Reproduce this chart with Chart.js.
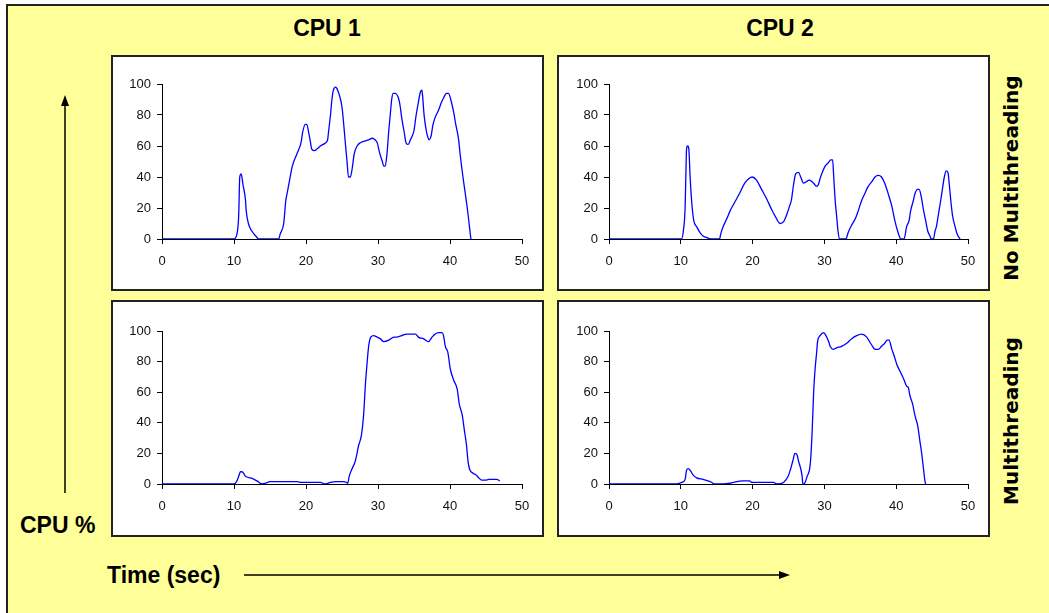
<!DOCTYPE html>
<html>
<head>
<meta charset="utf-8">
<script src="https://cdn.jsdelivr.net/npm/chart.js@4.4.0/dist/chart.umd.min.js"></script>
<style>
  body { margin: 0; background: #fff; width: 1049px; height: 613px; overflow: hidden; position: relative; font-family: "Liberation Sans", Arial, sans-serif; }
  #frame { position: absolute; left: 6px; top: 4px; width: 1100px; height: 700px; background: #ffff99; border-left: 2px solid #222; border-top: 2px solid #222; }
  .box { position: absolute; background: #fff; border: 2px solid #222; box-sizing: border-box; }
  .box canvas { position: absolute; left: 0; top: 0; }
  .lbl { position: absolute; font-weight: bold; font-size: 23px; color: #000; white-space: nowrap; line-height: 1; }
  .side { position: absolute; font-family: "DejaVu Sans", Verdana, sans-serif; font-weight: bold; font-size: 20px; white-space: nowrap; line-height: 1; transform: translate(-50%, -50%) rotate(-90deg); }
  svg { position: absolute; left: 0; top: 0; }
</style>
</head>
<body>
<div id="frame"></div>

<div class="box" style="left:111px; top:55px; width:433px; height:236px;"><canvas id="c1" width="429" height="232"></canvas></div>
<div class="box" style="left:557px; top:55px; width:433px; height:236px;"><canvas id="c2" width="429" height="232"></canvas></div>
<div class="box" style="left:111px; top:300px; width:433px; height:237px;"><canvas id="c3" width="429" height="233"></canvas></div>
<div class="box" style="left:557px; top:300px; width:433px; height:237px;"><canvas id="c4" width="429" height="233"></canvas></div>

<div class="lbl" style="left:327px; top:28px; transform:translate(-50%,-50%);">CPU 1</div>
<div class="lbl" style="left:780px; top:28px; transform:translate(-50%,-50%);">CPU 2</div>
<div class="lbl" style="left:20px; top:525px; transform:translateY(-50%);">CPU %</div>
<div class="lbl" style="left:107px; top:575px; transform:translateY(-50%);">Time (sec)</div>
<div class="side" style="left:1011px; top:178px;">No Multithreading</div>
<div class="side" style="left:1011px; top:421px;">Multithreading</div>

<svg width="1049" height="613">
  <line x1="65" y1="493" x2="65" y2="104" stroke="#000" stroke-width="1.5"/>
  <polygon points="65,95 61,106 69,106" fill="#000"/>
  <line x1="244" y1="575" x2="780" y2="575" stroke="#000" stroke-width="1.5"/>
  <polygon points="790,575 779,571 779,579" fill="#000"/>
</svg>

<script>
/* ---------------- DATA ---------------- */
const xTicks = [0, 10, 20, 30, 40, 50];
const yTicks = [0, 20, 40, 60, 80, 100];

// CPU 1, no multithreading
const cpu1NoMtTime = [
  0, 10, 10.4, 10.65, 10.8, 11.0, 11.25, 11.6, 11.7, 12.0,
  12.5, 13.2, 13.4, 16.2, 16.4, 16.9, 17.2, 17.4, 17.8, 18.1,
  18.75, 19.35, 19.5, 19.9, 20.1, 20.4, 20.6, 20.8, 21.2, 21.5,
  22, 22.7, 23, 23.15, 23.4, 23.6, 23.8, 24.1, 24.3, 24.8,
  25, 25.2, 25.5, 25.7, 25.9, 26.15, 26.4, 26.7, 27.1, 27.5,
  28, 28.7, 29.2, 29.6, 29.9, 30.2, 30.6, 30.8, 31.0, 31.25,
  31.5, 31.7, 31.9, 32.1, 32.4, 32.9, 33.1, 33.3, 33.6, 33.9,
  34.2, 34.5, 34.8, 35.0, 35.3, 35.6, 35.9, 36.1, 36.2, 36.4,
  36.7, 36.9, 37.1, 37.4, 37.6, 37.9, 38.4, 38.8, 39.1, 39.5,
  39.8, 40.1, 40.5, 40.8, 41.2, 41.4, 41.8, 42.1, 42.4, 42.7,
  42.9
];
const cpu1NoMtLoad = [
  0, 0, 3, 15, 40, 42, 35, 25, 18, 10,
  5, 1, 0, 0, 3, 10, 25, 30, 40, 47,
  55, 63, 68, 74, 74, 68, 63, 58, 57, 58,
  60, 62, 64, 70, 80, 90, 96, 98, 97, 90,
  85, 76, 60, 50, 40, 40, 45, 55, 60, 62,
  63, 64, 65, 64, 62, 56, 50, 47, 47, 55,
  70, 80, 90, 94, 94, 90, 85, 78, 70, 62,
  61, 64, 67, 70, 80, 88, 95, 96, 92, 80,
  70, 66, 64, 67, 73, 78, 83, 88, 91, 94,
  94, 90, 82, 74, 64, 55, 40, 30, 20, 8,
  0
];

// CPU 2, no multithreading
const cpu2NoMtTime = [
  0, 10.1, 10.35, 10.6, 10.7, 10.8, 10.95, 11.1, 11.3, 11.5,
  11.8, 12.2, 12.7, 13.1, 13.6, 14.1, 15.4, 15.55, 15.9, 16.4,
  16.85, 17.55, 18.25, 18.9, 19.5, 19.95, 20.55, 21.25, 21.95, 22.65,
  23.35, 23.8, 24.3, 24.7, 25.2, 25.4, 25.7, 26.0, 26.4, 26.7,
  27.1, 27.5, 27.9, 28.5, 28.9, 29.15, 29.4, 29.8, 30.1, 30.5,
  30.9, 31.15, 31.3, 31.5, 31.7, 31.9, 32.1, 33.0, 33.3, 33.8,
  34.3, 34.7, 35.2, 35.7, 36.1, 36.6, 37.05, 37.5, 37.95, 38.4,
  38.9, 39.4, 39.8, 40.2, 40.5, 40.7, 41.1, 41.45, 41.8, 42.0,
  42.4, 42.6, 43.0, 43.2, 43.5, 43.75, 44.1, 44.4, 44.7, 44.9,
  45.2, 45.4, 45.6, 45.85, 46.2, 46.4, 46.7, 46.95, 47.2, 47.4,
  47.6, 47.85, 48.2, 48.5, 48.9
];
const cpu2NoMtLoad = [
  0, 0, 5, 20, 40, 58, 60, 59, 40, 25,
  12, 8, 4, 2, 1, 0, 0, 3, 8, 13,
  18, 24, 30, 36, 39, 40, 38, 32, 26, 19,
  13, 10, 11, 15, 22, 25, 35, 42, 43, 40,
  36, 37, 38, 36, 34, 35, 39, 44, 47, 49,
  51, 51, 40, 25, 15, 5, 0, 0, 4, 9,
  13, 18, 25, 30, 34, 37, 40, 41, 40, 36,
  29, 21, 12, 5, 1, 0, 0, 8, 12, 18,
  25, 29, 32, 32, 27, 20, 12, 5, 2, 0,
  0, 5, 8, 15, 25, 31, 40, 44, 43, 35,
  25, 15, 8, 3, 0
];

// CPU 1, multithreading
const cpu1MtTime = [
  0, 10.0, 10.4, 10.65, 10.9, 11.1, 11.35, 11.6, 12.3, 13.2,
  13.9, 14.35, 15.0, 16.0, 17.8, 18.75, 19.4, 20.1, 22.0, 22.7,
  23.4, 24.1, 25.2, 25.6, 25.8, 26.0, 26.4, 26.85, 27.3, 27.7,
  28.0, 28.25, 28.5, 28.7, 29.0, 29.4, 29.9, 30.3, 30.8, 31.5,
  32.2, 32.6, 33.3, 34.0, 34.7, 35.2, 35.6, 36.3, 37.0, 37.5,
  37.95, 38.4, 38.9, 39.1, 39.35, 39.7, 40.05, 40.5, 41.0, 41.3,
  41.7, 42.0, 42.3, 42.5, 42.7, 43.2, 43.6, 44.0, 44.4, 44.9,
  45.4, 46.1, 46.5, 46.9
];
const cpu1MtLoad = [
  0, 0, 2, 5, 8, 8, 7, 5, 4, 2,
  0, 0.5, 1.5, 1.5, 1.5, 1.5, 1, 1, 1, 0,
  1, 1.5, 1.5, 1, 0.5, 5, 10, 15, 25, 32,
  45, 65, 80, 90, 96, 97, 96, 95, 93, 94,
  96, 96, 97, 98, 98, 98, 96, 95, 93, 96,
  98, 99, 99, 97, 90, 86, 75, 68, 62, 52,
  45, 35, 25, 15, 10, 7, 6, 4, 2.5, 2.5,
  3, 3, 3, 2
];

// CPU 2, multithreading
const cpu2MtTime = [
  0, 9.4, 10.1, 10.6, 10.8, 11.05, 11.3, 11.7, 12.2, 13.1,
  14.1, 14.8, 15.9, 16.85, 17.8, 18.5, 19.6, 19.9, 21.5, 22.9,
  23.4, 24.3, 24.95, 25.3, 25.6, 25.9, 26.2, 26.4, 26.7, 26.9,
  27.0, 27.3, 27.6, 27.95, 28.1, 28.3, 28.5, 28.7, 28.9, 29.05,
  29.4, 29.9, 30.1, 30.6, 30.8, 31.2, 31.7, 32.4, 33.1, 33.8,
  34.5, 35.2, 35.9, 36.3, 36.7, 37.05, 37.5, 37.95, 38.4, 38.75,
  39.0, 39.4, 39.7, 40.1, 40.5, 41.1, 41.45, 41.7, 41.9, 42.3,
  42.6, 43.0, 43.3, 43.55, 43.8, 44.0, 44.1
];
const cpu2MtLoad = [
  0, 0, 1, 3, 9, 10, 9, 6, 4, 3,
  1.5, 0, 0, 0.5, 1.5, 2, 2, 1, 1, 1,
  0, 1, 5, 10, 15, 20, 19, 15, 10, 5,
  0, 1, 5, 10, 17, 35, 60, 75, 85, 93,
  97, 99, 98, 93, 90, 88, 89, 90, 92, 95,
  97, 98, 96, 93, 90, 88, 88, 90, 92, 94,
  94, 88, 84, 78, 74, 68, 64, 63, 58, 52,
  45, 38, 28, 20, 10, 2, 0
];

/* ---------------- BUILD PANEL ---------------- */
function makePanel(id, times, loads, geo) {
  const points = times.map((t, i) => ({ x: t, y: loads[i] }));
  const tickFont = { family: "'Liberation Sans', Arial, sans-serif", size: 13 };

  return new Chart(document.getElementById(id), {
    type: "line",
    data: {
      datasets: [{
        data: points,
        borderColor: "#0000ff",
        borderWidth: 1.3,
        pointRadius: 0,
        fill: false,
        tension: 0.4,
        cubicInterpolationMode: "monotone"
      }]
    },
    options: {
      responsive: false,
      animation: false,
      layout: { padding: { left: 0, top: geo.top, right: geo.right, bottom: 0 } },
      plugins: { legend: { display: false }, tooltip: { enabled: false } },
      scales: {
        x: {
          type: "linear",
          min: 0,
          max: 50,
          afterBuildTicks: (s) => { s.ticks = xTicks.map((v) => ({ value: v })); },
          afterFit: (s) => { s.height = geo.bottom; },
          border: { display: true, color: "#000", width: 1 },
          grid: { drawOnChartArea: false, drawTicks: true, tickLength: 5, color: "#000" },
          ticks: { color: "#111", font: tickFont, padding: 10, maxRotation: 0 }
        },
        y: {
          min: 0,
          max: 100,
          afterBuildTicks: (s) => { s.ticks = yTicks.map((v) => ({ value: v })); },
          afterFit: (s) => { s.width = geo.left; },
          border: { display: true, color: "#000", width: 1 },
          grid: { drawOnChartArea: false, drawTicks: true, tickLength: 5, color: "#000" },
          ticks: { color: "#111", font: tickFont, padding: 6 }
        }
      }
    }
  });
}

/* ---------------- RENDER ---------------- */
makePanel("c1", cpu1NoMtTime, cpu1NoMtLoad, { left: 49, top: 27, right: 20, bottom: 50 });
makePanel("c2", cpu2NoMtTime, cpu2NoMtLoad, { left: 50, top: 27, right: 20, bottom: 50 });
makePanel("c3", cpu1MtTime, cpu1MtLoad, { left: 49, top: 29, right: 20, bottom: 51 });
makePanel("c4", cpu2MtTime, cpu2MtLoad, { left: 50, top: 29, right: 20, bottom: 51 });
</script>
</body>
</html>
